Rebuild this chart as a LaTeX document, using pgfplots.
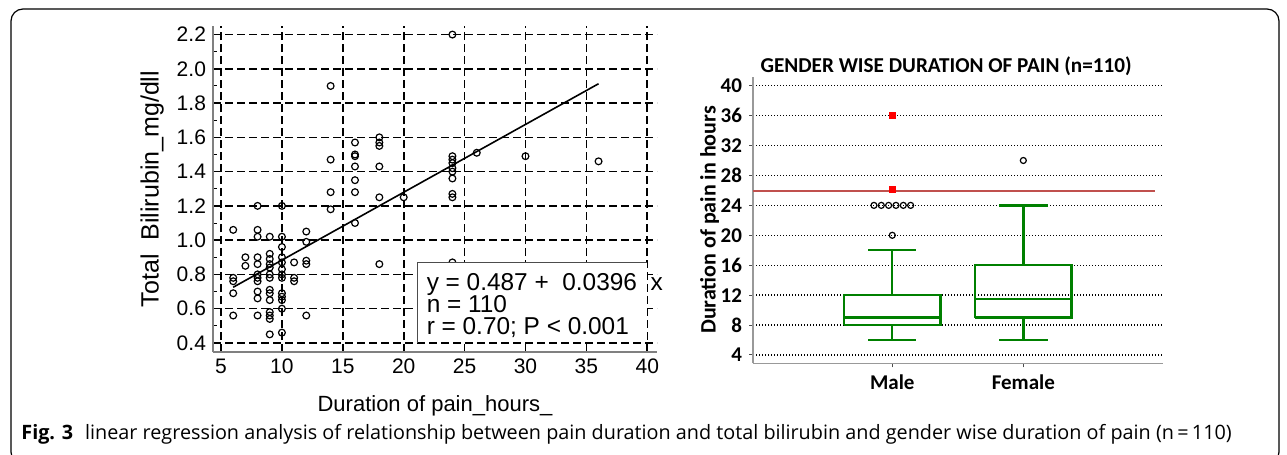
\documentclass[border=0pt]{standalone}
\usepackage{fontspec}
\setmainfont{Liberation Sans}
\newfontfamily\calibri{Carlito}
\newfontfamily\capfont{Open Sans}
\usepackage{pgfplots}
\pgfplotsset{compat=1.18}
\definecolor{boxgreen}{RGB}{0,128,0}
\definecolor{refred}{RGB}{192,80,77}
\begin{document}
\begin{tikzpicture}
\path[use as bounding box] (0,0) rectangle (643.5pt,-227.5pt);
\draw[line width=0.6pt, rounded corners=6pt] (5.5pt,-4.5pt) rectangle (639.5pt,-232pt);

% left panel: regression scatter
\begin{axis}[
  at={(106.5pt,-176pt)}, anchor=south west,
  scale only axis, width=222pt, height=163pt,
  xmin=4.34, xmax=40.8, ymin=0.347, ymax=2.25,
  clip mode=individual,
  axis lines=left, axis line style={-, gray, line width=0.6pt},
  xtick={5,10,15,20,25,30,35,40},
  ytick={0.4,0.6,0.8,1.0,1.2,1.4,1.6,1.8,2.0,2.2},
  minor y tick num=1,
  tick align=inside, major tick length=3pt, minor tick length=2pt,
  tick style={black, line width=0.5pt},
  grid=major, major grid style={black, line width=0.8pt, dash pattern=on 4pt off 2pt},
  ticklabel style={font=\fontsize{10.5}{12}\selectfont},
  /pgf/number format/assume math mode=true,
  yticklabel style={/pgf/number format/fixed, /pgf/number format/fixed zerofill, /pgf/number format/precision=1},
  xlabel={Duration of pain\_hours\_},
  ylabel={Total\ \ Bilirubin\_mg/dll},
  xlabel style={font=\fontsize{11}{13}\selectfont, at={(axis description cs:0.5,-0.165)}, anchor=center},
  ylabel style={font=\fontsize{12.5}{14}\selectfont, at={(axis description cs:-0.137,0.5)}, anchor=center},
]
\addplot[only marks, mark=o, mark size=1.7pt, mark options={line width=0.6pt}, black] table {
x y
6 1.06
6 0.78
6 0.76
6 0.69
6 0.56
7 0.90
7 0.85
8 1.20
8 1.06
8 1.02
8 0.90
8 0.86
8 0.80
8 0.78
8 0.76
8 0.70
8 0.66
8 0.56
9 1.02
9 0.92
9 0.89
9 0.86
9 0.84
9 0.80
9 0.78
9 0.71
9 0.69
9 0.65
9 0.58
9 0.56
9 0.54
9 0.45
10 1.20
10 1.02
10 0.96
10 0.90
10 0.87
10 0.83
10 0.80
10 0.78
10 0.69
10 0.67
10 0.65
10 0.60
10 0.46
11 0.87
11 0.78
11 0.76
12 1.05
12 0.99
12 0.88
12 0.86
12 0.56
14 1.90
14 1.47
14 1.28
14 1.18
16 1.57
16 1.50
16 1.49
16 1.43
16 1.35
16 1.28
16 1.10
18 1.60
18 1.57
18 1.55
18 1.43
18 1.25
18 0.86
20 1.25
24 2.20
24 1.49
24 1.47
24 1.45
24 1.42
24 1.40
24 1.36
24 1.27
24 1.25
24 0.87
26 1.51
30 1.49
36 1.46
};
\addplot[black, line width=0.8pt, no markers] coordinates {(6,0.725) (36,1.913)};
\fill[white] (axis cs:21.1,0.41) rectangle (axis cs:39.95,0.87);
\draw[gray!60!black, line width=0.5pt] (axis cs:21.1,0.4) |- (axis cs:40,0.87);
\node[anchor=base west, inner sep=0, font=\fontsize{12.2}{14}\selectfont] at (axis cs:21.86,0.706) {y = 0.487 +\ \ 0.0396 \ x};
\node[anchor=base west, inner sep=0, font=\fontsize{12.2}{14}\selectfont] at (axis cs:21.86,0.579) {n = 110};
\node[anchor=base west, inner sep=0, font=\fontsize{12.2}{14}\selectfont] at (axis cs:21.86,0.447) {r = 0.70; P < 0.001};
\end{axis}

% right panel: box plot
\begin{axis}[
  at={(376.5pt,-181.65pt)}, anchor=south west,
  scale only axis, width=205pt, height=143.3pt,
  xmin=-0.063, xmax=3.066, ymin=2.89, ymax=41.2,
  clip mode=individual,
  axis lines=left, axis line style={-, gray!80, line width=0.6pt},
  xtick={1,2}, xticklabels={Male,Female},
  ytick={4,8,12,16,20,24,28,32,36,40},
  tick align=outside, major tick length=2pt, tick style={gray!60!black, line width=0.5pt},
  ymajorgrids, major grid style={black, line width=0.7pt, dash pattern=on 0.5pt off 1pt},
  ticklabel style={font=\calibri\bfseries\fontsize{10.5}{12}\selectfont},
  /pgf/number format/assume math mode=true,
  ylabel={Duration of pain in hours},
  ylabel style={font=\calibri\bfseries\fontsize{11}{13}\selectfont, at={(axis description cs:-0.106,0.5)}, anchor=center},
  every axis plot/.append style={line join=miter},
]
\addplot[refred, line width=0.8pt] coordinates {(-0.063,25.9) (3.005,25.9)};
% Male: whiskers 6 / 18, quartiles 8 / 12, median 9
\addplot[boxgreen, line width=1.2pt] coordinates {(0.631,8) (1.369,8) (1.369,12) (0.631,12) (0.631,8)};
\addplot[boxgreen, line width=1.2pt] coordinates {(0.631,9) (1.369,9)};
\addplot[boxgreen, line width=1.2pt] coordinates {(1,12) (1,18)};
\addplot[boxgreen, line width=1.2pt] coordinates {(1,8) (1,6)};
\addplot[boxgreen, line width=1.2pt] coordinates {(0.8155,18) (1.1845,18)};
\addplot[boxgreen, line width=1.2pt] coordinates {(0.8155,6) (1.1845,6)};
% Female: whiskers 6 / 24, quartiles 9 / 16, median 11.5
\addplot[boxgreen, line width=1.2pt] coordinates {(1.631,9) (2.369,9) (2.369,16) (1.631,16) (1.631,9)};
\addplot[boxgreen, line width=1.2pt] coordinates {(1.631,11.5) (2.369,11.5)};
\addplot[boxgreen, line width=1.2pt] coordinates {(2,16) (2,24)};
\addplot[boxgreen, line width=1.2pt] coordinates {(2,9) (2,6)};
\addplot[boxgreen, line width=1.2pt] coordinates {(1.8155,24) (2.1845,24)};
\addplot[boxgreen, line width=1.2pt] coordinates {(1.8155,6) (2.1845,6)};
% outliers
\addplot[only marks, mark=o, mark size=1.5pt, mark options={line width=0.6pt}, black]
  coordinates {(1,20) (0.86,24) (0.916,24) (0.972,24) (1.028,24) (1.084,24) (1.14,24) (2,30)};
\addplot[only marks, mark=square*, mark size=1.5pt, red] coordinates {(1,36) (1,26.2)};
\node[anchor=base, inner sep=0, font=\calibri\bfseries\fontsize{10.6}{12}\selectfont]
  at (rel axis cs:0.471,1.013) {GENDER WISE DURATION OF PAIN (n=110)};
\end{axis}

\node[anchor=base west, inner sep=0, font=\capfont\fontsize{9.9}{11}\selectfont] at (10.5pt,-219.5pt)
  {\textbf{Fig. 3}\hspace{0.6em}linear regression analysis of relationship between pain duration and total bilirubin and gender wise duration of pain (n\,=\,110)};
\end{tikzpicture}
\end{document}
